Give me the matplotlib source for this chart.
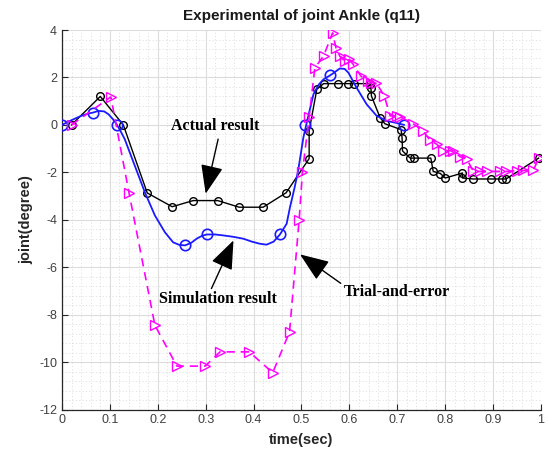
import matplotlib
matplotlib.use("Agg")
import matplotlib.pyplot as plt
from matplotlib.ticker import MultipleLocator

plt.rcParams["axes.unicode_minus"] = False

# ---- data ----
actual_t = [0.02, 0.08, 0.128, 0.178, 0.23, 0.274, 0.325, 0.37, 0.42, 0.468,
            0.516, 0.516, 0.532, 0.546, 0.577, 0.598, 0.61, 0.643, 0.645, 0.646,
            0.664, 0.674, 0.708, 0.71, 0.711, 0.727, 0.735, 0.77, 0.775, 0.79,
            0.80, 0.836, 0.836, 0.859, 0.895, 0.918, 0.927, 0.995]
actual_v = [0.0, 1.2, 0.0, -2.87, -3.45, -3.19, -3.19, -3.47, -3.47, -2.86,
            -1.42, -0.25, 1.5, 1.74, 1.74, 1.74, 1.74, 1.74, 1.57, 1.22,
            0.31, 0.05, -0.2, -0.55, -1.1, -1.4, -1.4, -1.4, -1.96, -2.05,
            -2.24, -2.03, -2.24, -2.28, -2.28, -2.28, -2.28, -1.4]

trial_t = [0.02, 0.102, 0.14, 0.194, 0.24, 0.299, 0.33, 0.391, 0.44, 0.475,
           0.495, 0.502, 0.516, 0.528, 0.546, 0.565, 0.572, 0.58, 0.59, 0.60,
           0.608, 0.624, 0.638, 0.646, 0.656, 0.673, 0.685, 0.699, 0.706, 0.733,
           0.754, 0.768, 0.782, 0.796, 0.81, 0.817, 0.831, 0.845, 0.859, 0.873,
           0.887, 0.914, 0.928, 0.949, 0.963, 0.984, 0.996]
trial_v = [0.0, 1.18, -2.87, -8.45, -10.17, -10.17, -9.57, -9.57, -10.45, -8.73,
           -4.03, -2.0, 0.34, 2.41, 2.9, 3.88, 3.25, 2.9, 2.69, 2.76,
           2.55, 2.06, 1.85, 1.78, 1.78, 1.22, 0.38, 0.38, 0.34, 0.05,
           -0.25, -0.64, -0.81, -1.09, -1.09, -1.12, -1.34, -1.44, -1.96, -1.96,
           -1.96, -1.96, -1.96, -1.93, -1.92, -1.9, -1.4]

sim_curve_t = [0.0, 0.02, 0.04, 0.055, 0.065, 0.076, 0.088, 0.097, 0.106, 0.114,
               0.122, 0.131, 0.152, 0.173, 0.194, 0.215, 0.232, 0.245, 0.257, 0.27,
               0.281, 0.292, 0.302, 0.32, 0.337, 0.358, 0.379, 0.396, 0.413, 0.427,
               0.442, 0.455, 0.469, 0.476, 0.485, 0.493, 0.504, 0.511, 0.525, 0.536,
               0.546, 0.563, 0.58, 0.59, 0.598, 0.615, 0.636, 0.657, 0.678, 0.699,
               0.714]
sim_curve_v = [0.0, 0.2, 0.38, 0.48, 0.52, 0.59, 0.57, 0.45, 0.25, 0.03,
               -0.25, -0.6, -1.72, -2.84, -3.82, -4.53, -4.95, -5.06, -5.08, -4.97,
               -4.8, -4.68, -4.62, -4.62, -4.66, -4.72, -4.8, -4.92, -5.01, -5.05,
               -4.92, -4.62, -4.17, -3.47, -2.7, -1.93, -0.53, 0.1, 1.29, 1.7,
               1.92, 2.13, 2.38, 2.36, 2.2, 1.57, 0.87, 0.38, 0.17, 0.08,
               0.0]
sim_knot_t = [0.0, 0.065, 0.114, 0.257, 0.302, 0.455, 0.507, 0.559, 0.714]
sim_knot_v = [0.0, 0.52, 0.0, -5.08, -4.62, -4.62, 0.0, 2.09, 0.0]

x_ticks = [0, 0.1, 0.2, 0.3, 0.4, 0.5, 0.6, 0.7, 0.8, 0.9, 1]
x_tick_labels = ["0", "0.1", "0.2", "0.3", "0.4", "0.5", "0.6", "0.7", "0.8", "0.9", "1"]
y_ticks = [4, 2, 0, -2, -4, -6, -8, -10, -12]

# ---- figure ----
fig = plt.figure(figsize=(5.48, 4.62), dpi=100)
ax = fig.add_axes([0.1131, 0.1136, 0.8741, 0.8214])
fig.patch.set_facecolor("white")

ax.plot(actual_t, actual_v, color="black", lw=1.0, marker="o", ms=5.5,
        mfc="none", mec="black", mew=1.0, zorder=3)
ax.plot(sim_curve_t, sim_curve_v, color="#1a1aff", lw=1.3, zorder=4)
ax.plot(sim_knot_t, sim_knot_v, ls="none", marker="o", ms=7.5, mfc="none",
        mec="#1a1aff", mew=1.2, zorder=4)
ax.plot(trial_t, trial_v, color="#ff00ff", lw=1.2, ls=(0, (5, 3.5)), marker=">",
        ms=6.5, mfc="none", mec="#ff00ff", mew=1.0, zorder=5)

ax.set_xlim(0, 1)
ax.set_ylim(-12, 4)
ax.set_xticks(x_ticks)
ax.set_xticklabels(x_tick_labels)
ax.set_yticks(y_ticks)
ax.xaxis.set_minor_locator(MultipleLocator(0.02))
ax.yaxis.set_minor_locator(MultipleLocator(0.4))

ax.grid(True, which="major", color="#dcdcdc", lw=0.8, ls="-", zorder=0)
ax.grid(True, which="minor", color="#dedede", lw=0.6, ls=(0, (1.5, 2.5)), zorder=0)
ax.set_axisbelow(True)

for s in ["top", "right"]:
    ax.spines[s].set_visible(False)
for s in ["left", "bottom"]:
    ax.spines[s].set_color("#262626")
    ax.spines[s].set_linewidth(0.9)

ax.tick_params(which="major", direction="in", length=4, width=0.8,
               colors="#262626", labelcolor="#404040", labelsize=9,
               labelfontfamily="Liberation Sans")
ax.tick_params(which="minor", length=0)

ax.set_title("Experimental of joint Ankle (q11)", fontsize=11, fontweight="bold",
             family="Liberation Sans", color="#1a1a1a", pad=7)
ax.set_xlabel("time(sec)", fontsize=10.5, fontweight="bold",
              family="Liberation Sans", color="#262626", labelpad=5)
ax.set_ylabel("joint(degree)", fontsize=10.5, fontweight="bold",
              family="Liberation Sans", color="#262626", labelpad=4)

arrow = dict(arrowstyle="-|>,head_length=0.9,head_width=0.35", color="black",
             lw=1.0, mutation_scale=20, shrinkA=0, shrinkB=0)
ann_font = dict(family="Liberation Serif", fontweight="bold", fontsize=11.5,
                color="black")

ax.text(0.32, -0.05, "Actual result", ha="center", va="center", **ann_font)
ax.annotate("", xy=(0.30, -2.9), xytext=(0.326, -0.6), arrowprops=arrow)

ax.text(0.326, -7.32, "Simulation result", ha="center", va="center", **ann_font)
ax.annotate("", xy=(0.358, -4.87), xytext=(0.312, -6.9), arrowprops=arrow)

ax.text(0.70, -7.06, "Trial-and-error", ha="center", va="center", **ann_font)
ax.annotate("", xy=(0.497, -5.46), xytext=(0.582, -6.68), arrowprops=arrow)

fig.savefig("out.png", dpi=100)
